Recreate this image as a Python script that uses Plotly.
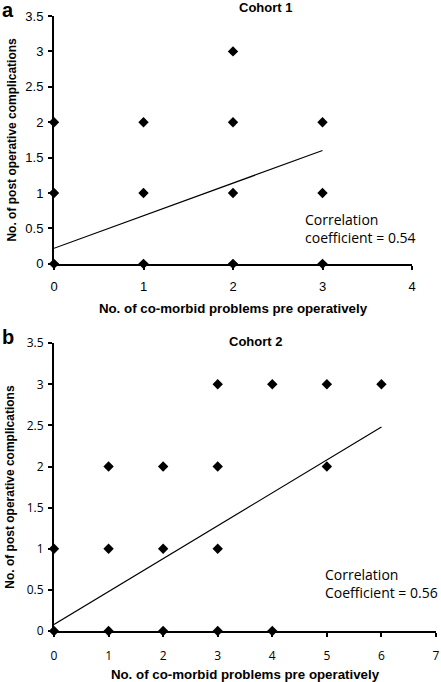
import plotly.graph_objects as go

# cohort 1 (panel a)
comorb_a = [0, 0, 0, 1, 1, 1, 2, 2, 2, 2, 3, 3, 3]
compl_a = [0, 1, 2, 0, 1, 2, 0, 1, 2, 3, 0, 1, 2]
trend_x_a = [0, 3]
trend_y_a = [0.22, 1.6]

# cohort 2 (panel b)
comorb_b = [0, 0, 1, 1, 1, 2, 2, 2, 3, 3, 3, 3, 4, 4, 5, 5, 6]
compl_b = [0, 1, 0, 1, 2, 0, 1, 2, 0, 1, 2, 3, 0, 3, 2, 3, 3]
trend_x_b = [0, 6]
trend_y_b = [0.08, 2.48]

X_TITLE = 'No. of co-morbid problems pre operatively'
Y_TITLE = 'No. of post operative complications'

fig = go.Figure()
marker = dict(symbol='diamond', size=8, color='black')
fig.add_trace(go.Scatter(x=comorb_a, y=compl_a, mode='markers', marker=marker,
                         cliponaxis=False, xaxis='x', yaxis='y'))
fig.add_trace(go.Scatter(x=trend_x_a, y=trend_y_a, mode='lines',
                         line=dict(color='black', width=1.2), xaxis='x', yaxis='y'))
fig.add_trace(go.Scatter(x=comorb_b, y=compl_b, mode='markers', marker=marker,
                         cliponaxis=False, xaxis='x2', yaxis='y2'))
fig.add_trace(go.Scatter(x=trend_x_b, y=trend_y_b, mode='lines',
                         line=dict(color='black', width=1.2), xaxis='x2', yaxis='y2'))

axis_common = dict(
    showgrid=False, zeroline=False, showline=True, linecolor='black', linewidth=2,
    ticks='outside', ticklen=4, tickwidth=1.5, tickcolor='black', automargin=False,
    tickfont=dict(family='Liberation Sans, Arial', size=13, color='black'),
)
title_font = dict(family='Liberation Sans, Arial', size=12, color='black', weight='bold')
xtitle_font = dict(title_font, size=13.3)
head_font = dict(title_font, size=13)
tick_b = dict(family='Open Sans, Noto Sans', size=12, color='black')
label_font = dict(family='Liberation Sans, Arial', size=20, color='black', weight='bold')
corr_font = dict(family='Open Sans, Noto Sans', size=14, color='black')

fig.update_layout(
    width=441, height=682,
    margin=dict(l=54, r=5, t=16, b=51),
    plot_bgcolor='white', paper_bgcolor='white',
    showlegend=False,
    xaxis=dict(axis_common, domain=[0, 358 / 382], range=[0, 4], dtick=1, anchor='y',
               ticklabelstandoff=6,
               title=dict(text=X_TITLE, font=xtitle_font, standoff=10)),
    yaxis=dict(axis_common, domain=[0.597, 1], range=[0, 3.5], dtick=0.5, anchor='x',
               ticklabelstandoff=2,
               title=dict(text=Y_TITLE, font=title_font, standoff=6)),
    xaxis2=dict(axis_common, domain=[0, 1], range=[0, 7], dtick=1, anchor='y2',
                tickfont=tick_b, ticklabelstandoff=9,
                title=dict(text=X_TITLE, font=xtitle_font, standoff=6)),
    yaxis2=dict(axis_common, domain=[0, 0.468], range=[0, 3.5], dtick=0.5, anchor='x2',
                tickfont=tick_b, ticklabelstandoff=2,
                title=dict(text=Y_TITLE, font=title_font, standoff=10)),
)

fig.add_annotation(text='Cohort 1', xref='paper', yref='paper', x=(265 - 54) / 382, y=1,
                   yanchor='middle', yshift=9, showarrow=False, font=head_font)
fig.add_annotation(text='Cohort 2', xref='paper', yref='paper', x=(256 - 54) / 382, y=0.468,
                   yanchor='middle', yshift=2, showarrow=False, font=head_font)
fig.add_annotation(text='a', xref='paper', yref='paper', x=-54 / 382, y=1,
                   xanchor='left', yanchor='middle', yshift=6, showarrow=False, font=label_font)
fig.add_annotation(text='b', xref='paper', yref='paper', x=-54 / 382, y=0.468,
                   xanchor='left', yanchor='middle', yshift=6, showarrow=False, font=label_font)
fig.add_annotation(text='Correlation<br>coefficient = 0.54', xref='x', yref='y', x=2.78, y=0.5,
                   xanchor='left', align='left', showarrow=False, font=corr_font)
fig.add_annotation(text='Correlation<br>Coefficient = 0.56', xref='x2', yref='y2', x=4.93, y=0.58,
                   xanchor='left', align='left', showarrow=False, font=corr_font)

# the page body has an 8px margin by default; drop it so the figure fills the window
fig.write_html('out.html', config={'displayModeBar': False},
               post_script="document.body.style.margin='0';")
